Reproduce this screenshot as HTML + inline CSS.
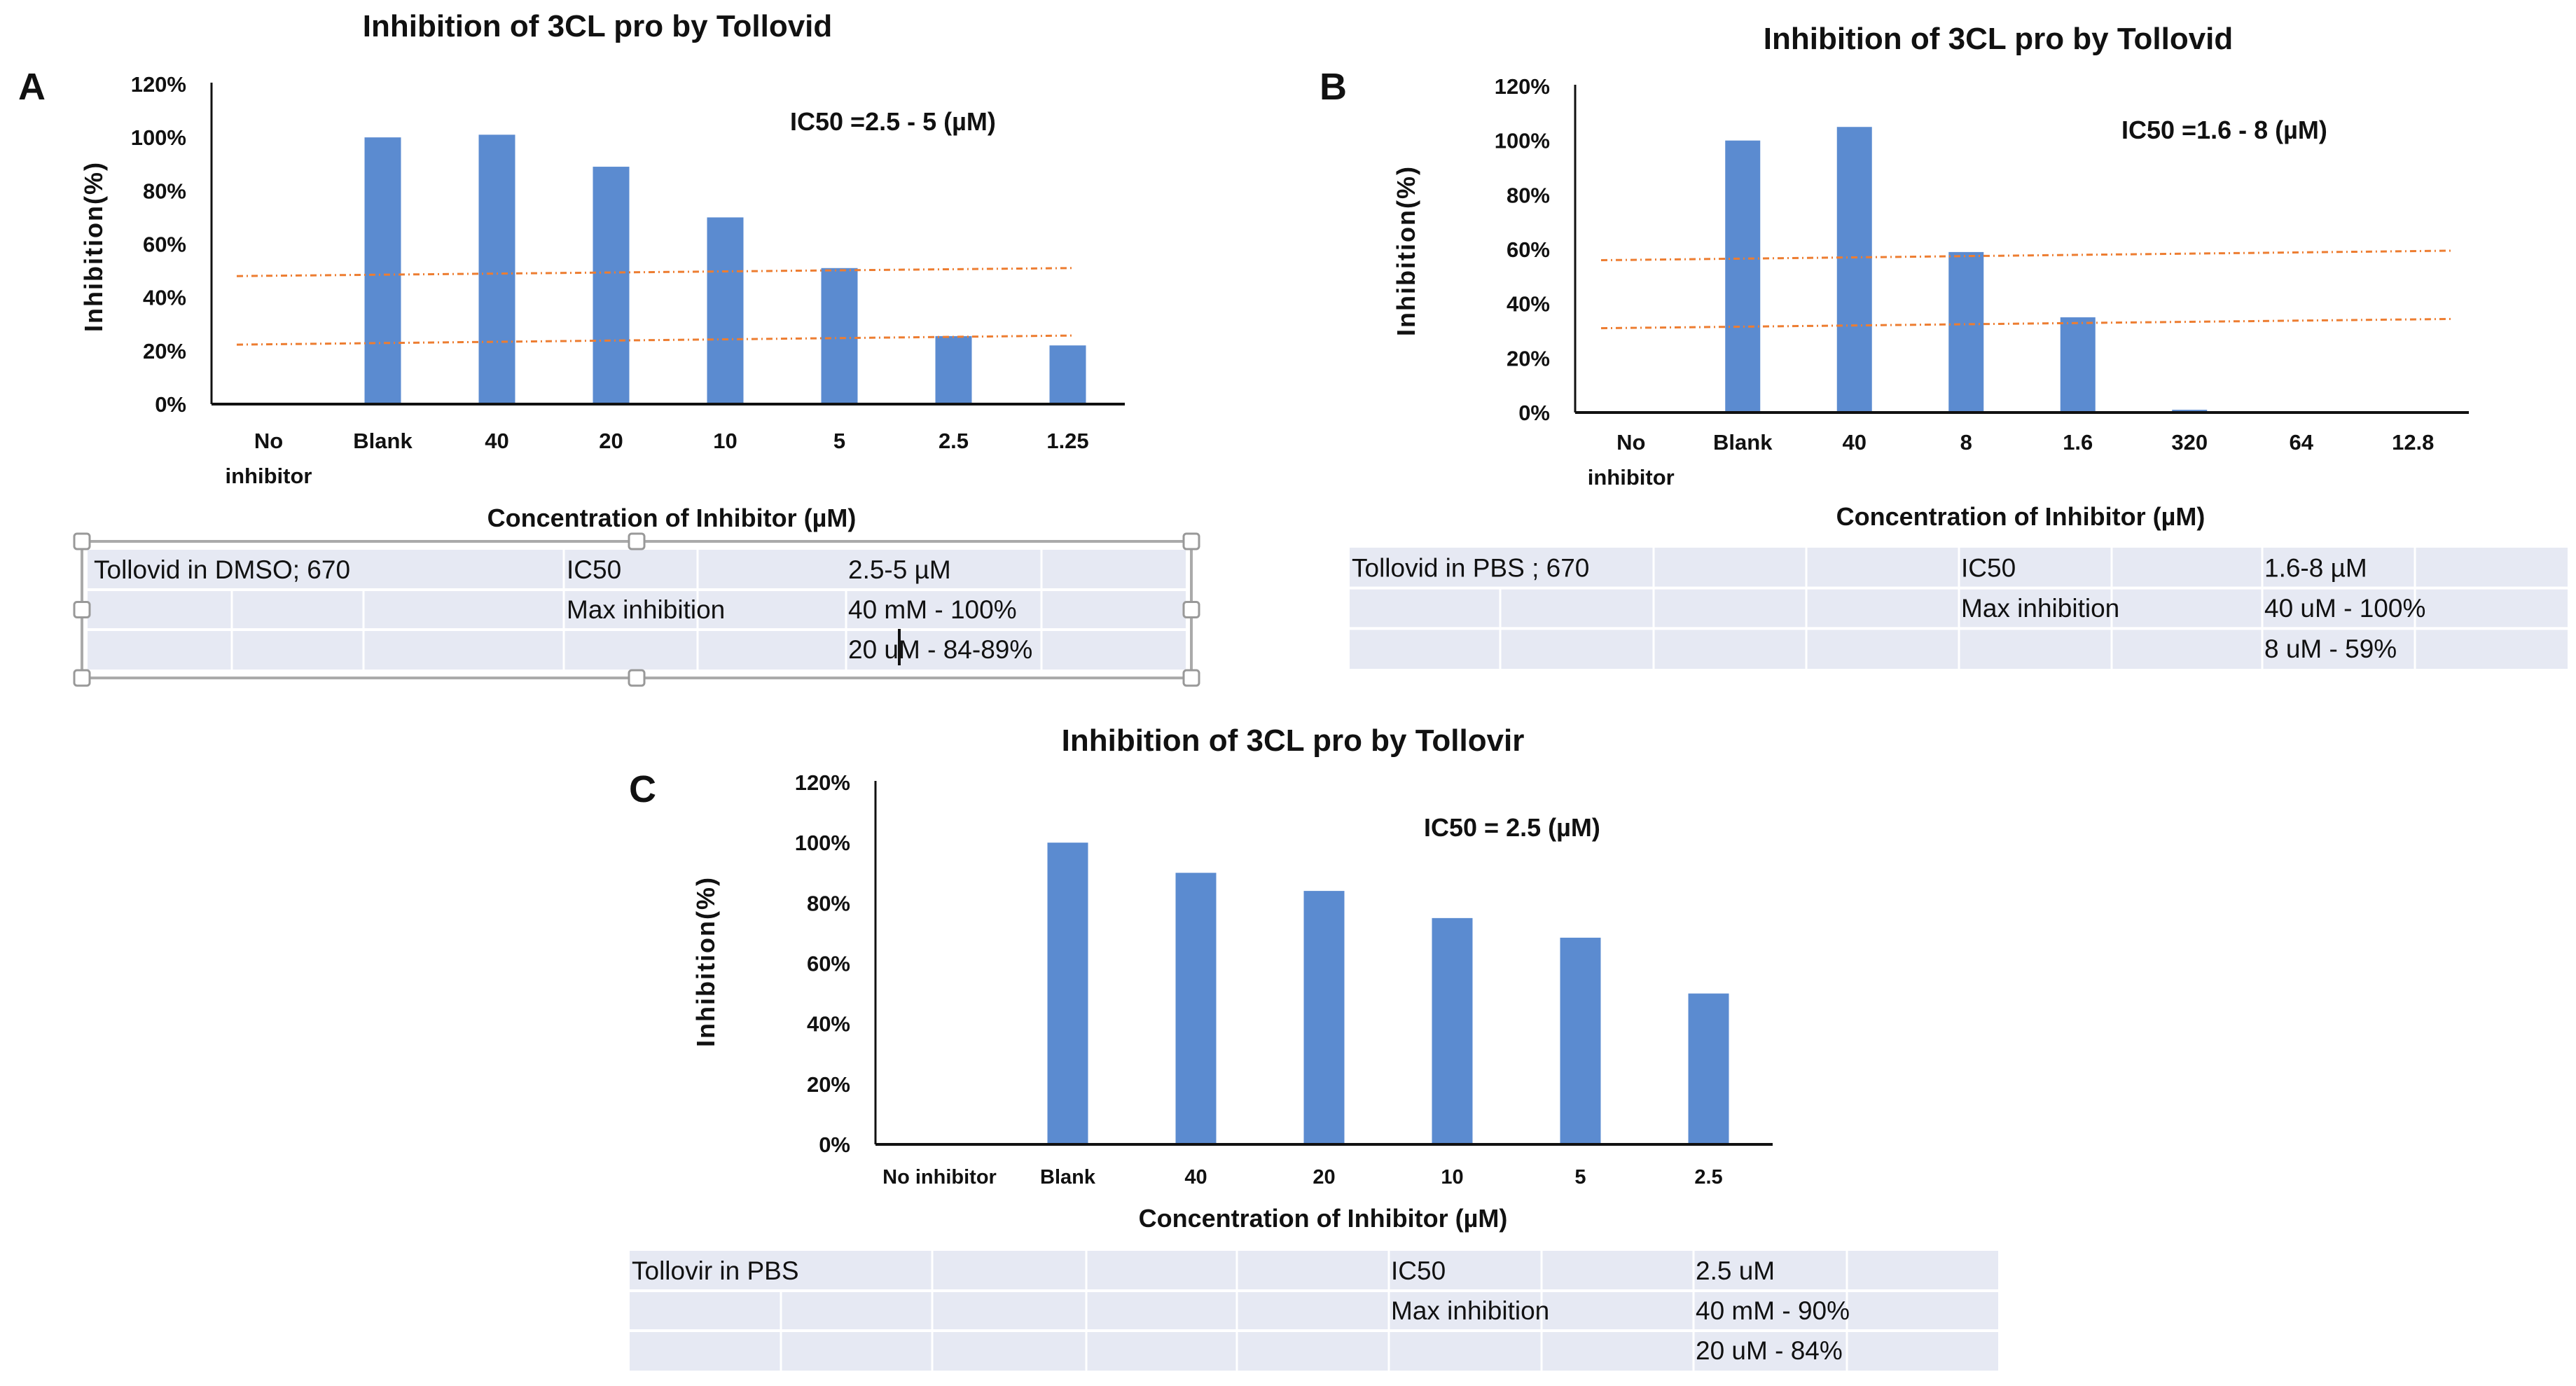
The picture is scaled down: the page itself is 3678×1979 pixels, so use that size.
<!DOCTYPE html>
<html><head><meta charset="utf-8"><style>
html,body{margin:0;padding:0;background:#fff;}
svg{display:block;}
text{font-family:"Liberation Sans Narrow","Liberation Sans",sans-serif;fill:#111;}
.b{font-weight:bold;}
</style></head><body>
<svg id="fig" width="3678" height="1979" viewBox="0 0 3678 1979" xmlns="http://www.w3.org/2000/svg">
<g id="root"></g>
</svg>
<script>
// ---- Data ----
const catsA = ["No|inhibitor","Blank","40","20","10","5","2.5","1.25"];
const valsA = [0,100,101,89,70,51,25.5,22];
const trendAHigh = [48,51];
const trendALow = [22.3,25.7];
const catsB = ["No|inhibitor","Blank","40","8","1.6","320","64","12.8"];
const valsB = [0,100,105,59,35,1,0,0];
const trendBHigh = [56,59.5];
const trendBLow = [31,34.4];
const catsC = ["No inhibitor","Blank","40","20","10","5","2.5"];
const valsC = [0,100,90,84,75,68.5,50];
const yTicks = ["0%","20%","40%","60%","80%","100%","120%"];
const yTickVals = [0,20,40,60,80,100,120];

const NS="http://www.w3.org/2000/svg";
const root=document.getElementById('root');
function mk(tag,attrs,parent,txt){const e=document.createElementNS(NS,tag);for(const k in attrs)e.setAttribute(k,attrs[k]);if(txt!==undefined)e.textContent=txt;(parent||root).appendChild(e);return e;}

function chart(id,L,cats,vals,trends){
  const g=mk('g',{});
  
  
  const n=cats.length, bw=(L.x1-L.x0)/n;
  const xc=i=>L.x0+bw*(i+0.5);
  const yv=v=>L.y0-(v/120)*(L.y0-L.y120);
  // title
  const t=mk('text',{x:L.tx,y:L.ty,'font-size':44,'text-anchor':'middle',class:'b'},g,L.title);
  
  const p=mk('text',{x:L.px,y:L.py,'font-size':54,class:'b','font-family':'Liberation Sans'},g,L.panel);
  
  // ticks
  yTickVals.forEach((v,i)=>{const tt=mk('text',{x:L.x0-36,y:yv(v)+11,'font-size':31,'text-anchor':'end',class:'b'},g,yTicks[i]);
    });
  // bars
  vals.forEach((v,i)=>{if(v<=0)return;const r=mk('rect',{x:xc(i)-L.barw/2,y:yv(v),width:L.barw,height:yv(0)-yv(v),fill:'#5b8bd0'},g);
    });
  // trendlines
  (trends||[]).forEach(tr=>{const l=mk('line',{x1:L.lx0,y1:yv(tr[0]),x2:L.lx1,y2:yv(tr[1]),stroke:'#ed7d31','stroke-width':3,'stroke-dasharray':'9 5 2 5'},g);
    });
  // axes
  const ya=mk('line',{x1:L.x0,y1:L.y120-2,x2:L.x0,y2:L.y0,stroke:'#111','stroke-width':3},g);
  
  const xa=mk('line',{x1:L.x0,y1:L.y0,x2:L.x1,y2:L.y0,stroke:'#111','stroke-width':4},g);
  
  // category labels
  cats.forEach((c,i)=>{const parts=c.split('|');parts.forEach((s,j)=>{const tl=mk('text',{x:xc(i),y:L.cy+j*50,'font-size':L.cfs,'text-anchor':'middle',class:'b'},g,s);
    });});
  const xt=mk('text',{x:L.xtx,y:L.xty,'font-size':36,'text-anchor':'middle',class:'b'},g,'Concentration of Inhibitor (µM)');
  
  const yt=mk('text',{x:0,y:0,'font-size':36,'text-anchor':'middle',class:'b','font-family':'Liberation Sans','letter-spacing':2,transform:`translate(${L.ytx},${L.yty}) rotate(-90)`},g,'Inhibition(%)');
  
  const ic=mk('text',{x:L.icx,y:L.icy,'font-size':36,class:'b'},g,L.ic);
  
}

function table(id,T){
  const g=mk('g',{});
  
  
  mk('rect',{x:T.x0,y:T.y0,width:T.x1-T.x0,height:T.y1-T.y0,fill:'#e6e9f3'},g);
  const rh=(T.y1-T.y0)/3;
  for(let r=1;r<3;r++)mk('line',{x1:T.x0,y1:T.y0+rh*r,x2:T.x1,y2:T.y0+rh*r,stroke:'#fff','stroke-width':4},g);
  T.cols.forEach((cx,ci)=>{const y1=T.row1skip.includes(ci)?T.y0+rh:T.y0;mk('line',{x1:cx,y1:y1,x2:cx,y2:T.y1,stroke:'#fff','stroke-width':3},g);});
  T.texts.forEach(tx=>{const e=mk('text',{x:tx[0],y:T.y0+rh*tx[1]+rh*0.72,'font-size':37},g,tx[2]);
    });
  if(T.sel){
    const s=mk('rect',{x:T.x0-8,y:T.y0-12,width:T.x1-T.x0+16,height:T.y1-T.y0+24,fill:'none',stroke:'#aaa','stroke-width':4},g);
    
    const hx=[T.x0-8,(T.x0+T.x1)/2,T.x1+8],hy=[T.y0-12,(T.y0+T.y1)/2,T.y1+12];
    hx.forEach((a,i)=>hy.forEach((b,j)=>{if(i==1&&j==1)return;const h=mk('rect',{x:a-11,y:b-11,width:22,height:22,rx:4,fill:'#fff',stroke:'#999','stroke-width':3},g);
      }));
  }
}

chart('panel-a',{x0:302,x1:1606,y0:577,y120:120,barw:52,title:'Inhibition of 3CL pro by Tollovid',tx:853,ty:52,panel:'A',px:26,py:142,
  lx0:338,lx1:1530,cy:640,cfs:31,xtx:959,xty:752,ytx:146,yty:352,ic:'IC50 =2.5 - 5 (µM)',icx:1128,icy:186},catsA,valsA,[trendAHigh,trendALow]);
chart('panel-b',{x0:2249,x1:3525,y0:589,y120:123,barw:50,title:'Inhibition of 3CL pro by Tollovid',tx:2853,ty:70,panel:'B',px:1884,py:142,
  lx0:2286,lx1:3501,cy:642,cfs:31,xtx:2885,xty:750,ytx:2020,yty:358,ic:'IC50 =1.6 - 8 (µM)',icx:3029,icy:198},catsB,valsB,[trendBHigh,trendBLow]);
chart('panel-c',{x0:1250,x1:2531,y0:1634,y120:1117,barw:58,title:'Inhibition of 3CL pro by Tollovir',tx:1846,ty:1072,panel:'C',px:898,py:1145,
  lx0:0,lx1:0,cy:1690,cfs:29,xtx:1889,xty:1752,ytx:1020,yty:1373,ic:'IC50 = 2.5 (µM)',icx:2033,icy:1194},catsC,valsC,[]);

table('panel-a',{x0:125,x1:1693,y0:785,y1:956,cols:[331,519,805,996,1208,1487],row1skip:[0,1,4],sel:true,
  texts:[[134,0,'Tollovid in DMSO; 670'],[809,0,'IC50'],[1211,0,'2.5-5 µM'],[809,1,'Max inhibition'],[1211,1,'40 mM - 100%'],[1211,2,'20 uM - 84-89%']]});
table('panel-b',{x0:1927,x1:3666,y0:782,y1:955,cols:[2142,2361,2579,2797,3015,3230,3448],row1skip:[0],sel:false,
  texts:[[1930,0,'Tollovid in PBS ; 670'],[2800,0,'IC50'],[3233,0,'1.6-8  µM'],[2800,1,'Max inhibition'],[3233,1,'40 uM - 100%'],[3233,2,'8 uM - 59%']]});
table('panel-c',{x0:899,x1:2853,y0:1786,y1:1957,cols:[1115,1331,1551,1766,1983,2201,2418,2637],row1skip:[0],sel:false,
  texts:[[902,0,'Tollovir in PBS'],[1986,0,'IC50'],[2421,0,'2.5 uM'],[1986,1,'Max inhibition'],[2421,1,'40 mM - 90%'],[2421,2,'20 uM - 84%']]});
// text cursor in table A
const cur=mk('line',{x1:1284,y1:898,x2:1284,y2:950,stroke:'#111','stroke-width':4});


</script>
</body></html>
